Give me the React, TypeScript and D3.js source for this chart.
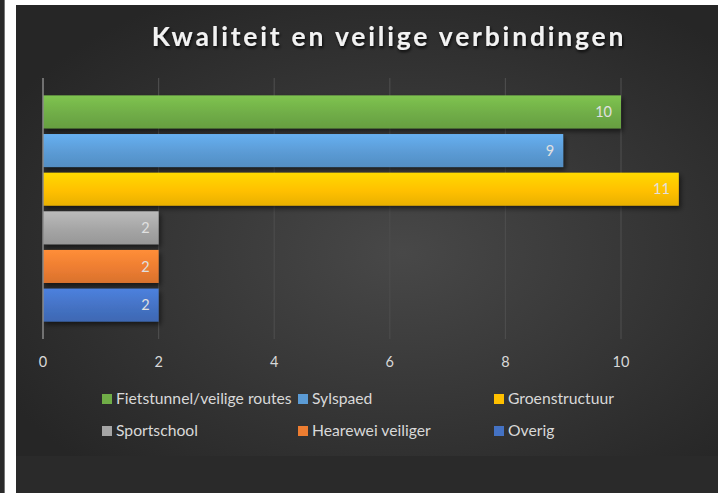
import { useEffect, useRef } from 'react'
import * as d3 from 'd3'

// Categories (bars top to bottom) and their counts
const CATEGORIES = [
  'Fietstunnel/veilige routes',
  'Sylspaed',
  'Groenstructuur',
  'Sportschool',
  'Hearewei veiliger',
  'Overig',
]
const VALUES = [10, 9, 11, 2, 2, 2]
const COLORS = ['#70ad47', '#5b9bd5', '#ffc000', '#a5a5a5', '#ed7d31', '#4472c4']
const TICKS = [0, 2, 4, 6, 8, 10]
const TITLE = 'Kwaliteit en veilige verbindingen'

const W = 718
const H = 493
const FONT = 'Lato, "Open Sans", sans-serif'

const App = () => {
  const svgRef = useRef<SVGSVGElement>(null)

  useEffect(() => {
    if (!svgRef.current) return
    const svg = d3.select(svgRef.current)
    svg.selectAll('*').remove()

    const defs = svg.append('defs')

    // Background gradient
    const bg = defs.append('radialGradient')
      .attr('id', 'bg')
      .attr('cx', '55%').attr('cy', '55%').attr('r', '65%')
    bg.append('stop').attr('offset', '0%').attr('stop-color', '#484848')
    bg.append('stop').attr('offset', '100%').attr('stop-color', '#262626')

    // Bar gradients
    COLORS.forEach((c, i) => {
      const g = defs.append('linearGradient')
        .attr('id', `bar${i}`)
        .attr('x1', 0).attr('y1', 0).attr('x2', 0).attr('y2', 1)
      g.append('stop').attr('offset', '0%').attr('stop-color', d3.color(c)!.brighter(0.35).formatHex())
      g.append('stop').attr('offset', '55%').attr('stop-color', c)
      g.append('stop').attr('offset', '100%').attr('stop-color', d3.color(c)!.darker(0.25).formatHex())
    })

    const shadow = defs.append('filter').attr('id', 'shadow')
      .attr('x', '-10%').attr('y', '-20%').attr('width', '130%').attr('height', '160%')
    shadow.append('feDropShadow')
      .attr('dx', 2).attr('dy', 3).attr('stdDeviation', 2.5)
      .attr('flood-color', '#000').attr('flood-opacity', 0.55)

    const titleShadow = defs.append('filter').attr('id', 'tshadow')
    titleShadow.append('feDropShadow')
      .attr('dx', 1).attr('dy', 2).attr('stdDeviation', 1.5)
      .attr('flood-color', '#000').attr('flood-opacity', 0.8)

    // Frame pieces
    svg.append('rect').attr('width', W).attr('height', H).attr('fill', '#2a2a2a')
    svg.append('rect').attr('x', 5).attr('y', 0).attr('width', W - 5).attr('height', 5).attr('fill', '#ffffff')
    svg.append('rect').attr('x', 5).attr('y', 0).attr('width', 11).attr('height', H).attr('fill', '#ffffff')
    svg.append('rect').attr('x', 4).attr('y', 0).attr('width', 1).attr('height', H).attr('fill', '#777')
    svg.append('rect').attr('x', 16).attr('y', 5).attr('width', W - 16).attr('height', 451).attr('fill', 'url(#bg)')

    // Title
    svg.append('text')
      .attr('x', 389).attr('y', 46)
      .attr('text-anchor', 'middle')
      .attr('font-family', FONT)
      .attr('font-weight', 'bold')
      .attr('font-size', 26.5)
      .attr('letter-spacing', 2.8)
      .attr('fill', '#f2f2f2')
      .attr('filter', 'url(#tshadow)')
      .text(TITLE)

    // Scales
    const x = d3.scaleLinear().domain([0, 10]).range([43, 621])
    const y = d3.scaleBand<string>()
      .domain(CATEGORIES)
      .range([78, 339])
      .paddingInner(0.145)
      .paddingOuter(0.45)

    // Gridlines
    svg.append('g')
      .selectAll('line')
      .data(TICKS.slice(1))
      .join('line')
      .attr('x1', d => x(d)).attr('x2', d => x(d))
      .attr('y1', 78).attr('y2', 339)
      .attr('stroke', '#4c4c4c')
      .attr('stroke-width', 1.2)

    // Bars
    const bars = svg.append('g')
    bars.selectAll('rect')
      .data(VALUES)
      .join('rect')
      .attr('x', x(0))
      .attr('y', (d, i) => y(CATEGORIES[i])!)
      .attr('width', d => x(d) - x(0))
      .attr('height', y.bandwidth())
      .attr('fill', (d, i) => `url(#bar${i})`)
      .attr('filter', 'url(#shadow)')

    // Axis line at zero
    svg.append('line')
      .attr('x1', x(0)).attr('x2', x(0))
      .attr('y1', 78).attr('y2', 339)
      .attr('stroke', '#8a8a8a')
      .attr('stroke-width', 1.5)

    // Bar value labels
    bars.selectAll('text')
      .data(VALUES)
      .join('text')
      .attr('x', d => x(d) - 9)
      .attr('y', (d, i) => y(CATEGORIES[i])! + y.bandwidth() / 2)
      .attr('dy', '0.35em')
      .attr('text-anchor', 'end')
      .attr('font-family', FONT)
      .attr('font-size', 14.5)
      .attr('fill', '#e0e0e0')
      .text(d => d)

    // Tick labels
    svg.append('g')
      .selectAll('text')
      .data(TICKS)
      .join('text')
      .attr('x', d => x(d))
      .attr('y', 367)
      .attr('text-anchor', 'middle')
      .attr('font-family', FONT)
      .attr('font-size', 14.5)
      .attr('fill', '#d9d9d9')
      .text(d => d)

    // Legend
    const legend = svg.append('g')
    CATEGORIES.forEach((c, i) => {
      const col = i % 3
      const row = Math.floor(i / 3)
      const lx = 102 + col * 196
      const ly = 399 + row * 32
      legend.append('rect')
        .attr('x', lx).attr('y', ly - 5)
        .attr('width', 10).attr('height', 10)
        .attr('fill', COLORS[i])
      legend.append('text')
        .attr('x', lx + 14).attr('y', ly)
        .attr('dy', '0.35em')
        .attr('font-family', FONT)
        .attr('font-size', 15.7)
        .attr('fill', '#d9d9d9')
        .text(c)
    })
  }, [])

  return (
    <svg
      ref={svgRef}
      width={W}
      height={H}
      style={{ position: 'absolute', left: 0, top: 0, display: 'block' }}
    />
  )
}

export default App
